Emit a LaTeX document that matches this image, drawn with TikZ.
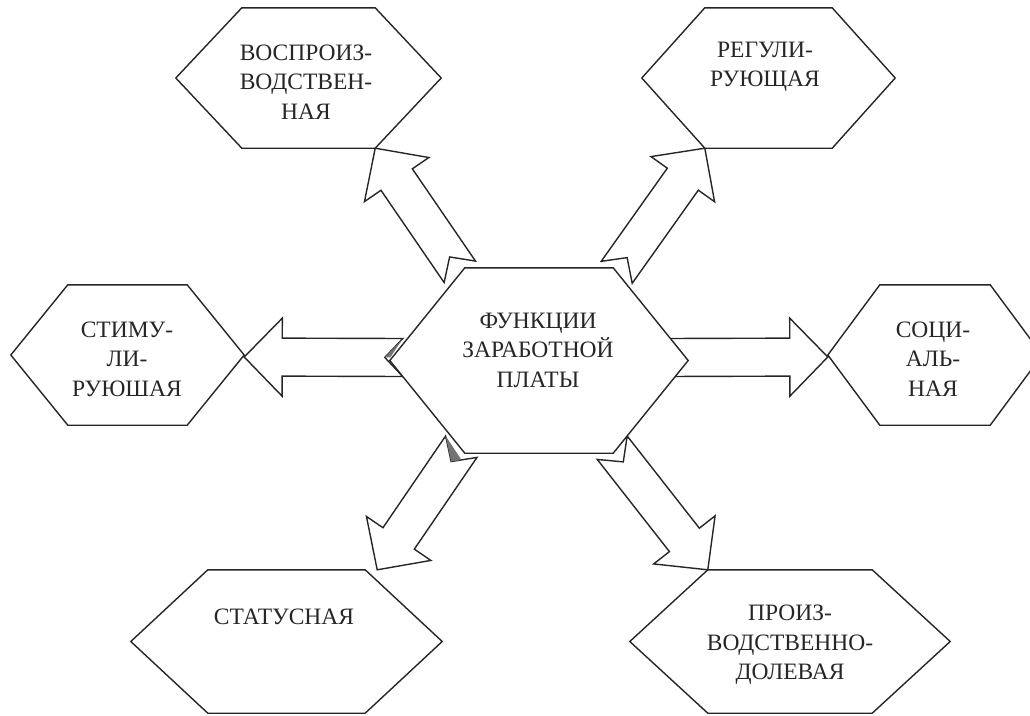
\documentclass[tikz,border=0pt]{standalone}
\usepackage{fontspec}
\setmainfont{Liberation Serif}
\usetikzlibrary{calc}

\tikzset{
  hexbox/.style={inner sep=0pt},
  hexline/.style={draw=black!85, line width=1.4pt, fill=white},
  blockarr/.style={draw=black!85, line width=1.4pt, fill=white},
  notchshade/.style={fill=black!55},
  lbl/.style={align=center, text=black!85, inner sep=0pt, font=\fontsize{23.5}{29.5}\selectfont},
}

% hexagon round a box node: #1 node, #2 slant
\newcommand{\hexa}[2]{\draw [hexline] (#1.north west) -- (#1.north east) -- ([xshift=#2]#1.east) -- (#1.south east) -- (#1.south west) -- ([xshift=-#2]#1.west) -- cycle;}

% block arrow with notched tail: #1 name, #2 tail, #3 tip
\newcommand{\blockarrow}[3]{
  \coordinate (#1-a) at (#2);
  \coordinate (#1-b) at (#3);
  \coordinate (#1-h) at ($(#1-b)!38pt!(#1-a)$);
  \coordinate (#1-n) at ($(#1-a)!18pt!(#1-b)$);
  \coordinate (#1-l) at ($(#1-a)!19pt!90:(#1-b)$);
  \coordinate (#1-r) at ($(#1-a)!19pt!-90:(#1-b)$);
  \draw [blockarr] (#1-l) -- ($(#1-h)!19pt!90:(#1-b)$) -- ($(#1-h)!39pt!90:(#1-b)$)
    -- (#1-b) -- ($(#1-h)!39pt!-90:(#1-b)$) -- ($(#1-h)!19pt!-90:(#1-b)$)
    -- (#1-r) -- (#1-n) -- cycle;
}

\begin{document}
\begin{tikzpicture}[x=1pt, y=-1pt]
\useasboundingbox (0,0) rectangle (1030,715);

% boxes of the hexagons
\node (zp) [hexbox, minimum width=148pt, minimum height=185pt] at (539,360.5) {};
\node (vospr) [hexbox, minimum width=133pt, minimum height=140pt] at (308.5,78) {};
\node (regul) [hexbox, minimum width=127pt, minimum height=140pt] at (768.5,78) {};
\node (stim) [hexbox, minimum width=119pt, minimum height=140pt] at (127.5,355) {};
\node (soc) [hexbox, minimum width=110pt, minimum height=140pt] at (935,355) {};
\node (status) [hexbox, minimum width=157pt, minimum height=143pt] at (286.5,641.5) {};
\node (proizv) [hexbox, minimum width=164pt, minimum height=143pt] at (790,641.5) {};

% arrows
\blockarrow{a1}{[shift={(-5,4)}]zp.north west}{vospr.south east}
\blockarrow{a2}{[shift={(3.5,4.5)}]zp.north east}{regul.south west}
\blockarrow{a3}{[shift={(-62,-3)}]zp.west}{[shift={(57,2)}]stim.east}
\blockarrow{a4}{[shift={(53,-3)}]zp.east}{[shift={(-52,2)}]soc.west}
\blockarrow{a5}{[shift={(-3.5,-6.5)}]zp.south west}{[xshift=12pt]status.north east}
\blockarrow{a6}{[shift={(-1,-5.5)}]zp.south east}{proizv.north west}
\fill [notchshade] (a3-r) -- (a3-n) -- ($(a3-n)!0.3!(a3-a)$) -- cycle;
\fill [notchshade] (a5-r) -- (a5-n) -- ($(a5-n)!0.4!(a5-l)$) -- cycle;

% hexagons
\hexa{zp}{75pt}
\hexa{vospr}{66pt}
\hexa{regul}{63pt}
\hexa{stim}{57pt}
\hexa{soc}{52pt}
\hexa{status}{77pt}
\hexa{proizv}{78pt}

% texts
\node (zp-t) [lbl] at (538,350) {ФУНКЦИИ\\ЗАРАБОТНОЙ\\ПЛАТЫ};
\node (vospr-t) [lbl] at (306,82) {ВОСПРОИЗ-\\ВОДСТВЕН-\\НАЯ};
\node (regul-t) [lbl] at (765,67) {РЕГУЛИ-\\РУЮЩАЯ};
\node (stim-t) [lbl] at (127,359) {СТИМУ-\\ЛИ-\\РУЮШАЯ};
\node (soc-t) [lbl] at (933,359) {СОЦИ-\\АЛЬ-\\НАЯ};
\node (status-t) [lbl] at (284,617) {СТАТУСНАЯ};
\node (proizv-t) [lbl] at (790,645) {ПРОИЗ-\\ВОДСТВЕННО-\\ДОЛЕВАЯ};
\end{tikzpicture}
\end{document}
